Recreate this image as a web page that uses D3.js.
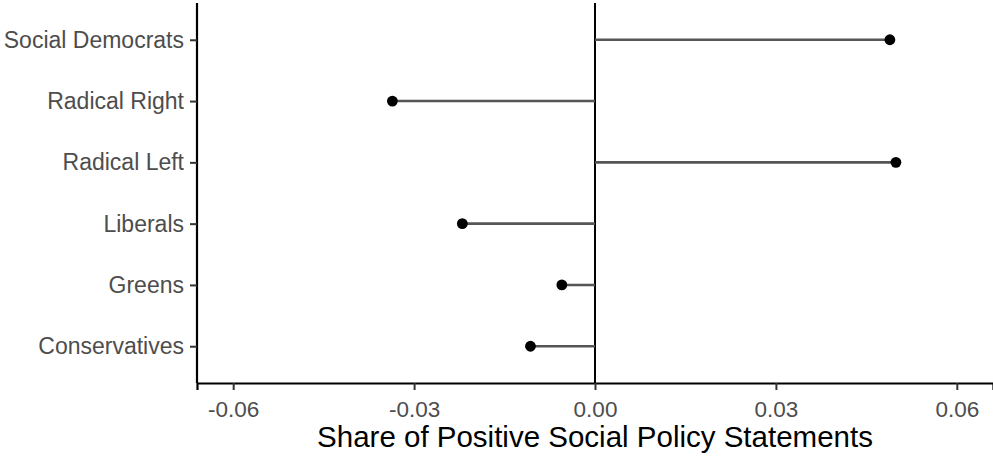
<!DOCTYPE html>
<html>
<head>
<meta charset="utf-8">
<script src="https://cdn.jsdelivr.net/npm/d3@7"></script>
<style>
  html, body { margin: 0; padding: 0; background: #fff; }
  svg { display: block; }
  svg text { font-family: "Liberation Sans", Arial, sans-serif; }
</style>
</head>
<body>
<svg id="chart" width="993" height="457"></svg>
<script>
// Party families, top to bottom
const parties = ["Social Democrats", "Radical Right", "Radical Left", "Liberals", "Greens", "Conservatives"];
// Share of positive social policy statements (difference)
const shares = [0.0489, -0.0336, 0.0499, -0.0220, -0.0055, -0.0107];
const xTicks = [-0.06, -0.03, 0.00, 0.03, 0.06];

const svg = d3.select("#chart");
const W = 993, H = 457;
const margin = { top: 3, right: 0, bottom: 74, left: 197 };
const innerW = W - margin.left - margin.right;
const innerH = H - margin.top - margin.bottom;

const x = d3.scaleLinear().domain([-0.066, 0.066]).range([0, innerW]);
const y = d3.scalePoint().domain(parties).range([0, innerH]).padding(0.6);

const g = svg.append("g").attr("transform", `translate(${margin.left},${margin.top})`);

// zero reference line
g.append("line")
  .attr("x1", x(0)).attr("x2", x(0))
  .attr("y1", 0).attr("y2", innerH)
  .attr("stroke", "#000").attr("stroke-width", 2);

// lollipop stems
g.selectAll("line.stem")
  .data(parties)
  .join("line")
  .attr("class", "stem")
  .attr("x1", x(0))
  .attr("x2", (d, i) => x(shares[i]))
  .attr("y1", d => y(d)).attr("y2", d => y(d))
  .attr("stroke", "#555").attr("stroke-width", 2.6);

// lollipop heads
g.selectAll("circle.head")
  .data(parties)
  .join("circle")
  .attr("class", "head")
  .attr("cx", (d, i) => x(shares[i]))
  .attr("cy", d => y(d))
  .attr("r", 5.4)
  .attr("fill", "#000");

// tick labels use a plain hyphen for negatives
const fmt = v => d3.format(".2f")(v).replace("\u2212", "-");

// x axis
const xAxis = g.append("g")
  .attr("transform", `translate(0,${innerH})`)
  .call(d3.axisBottom(x).tickValues(xTicks).tickFormat(fmt).tickSizeOuter(0).tickSize(7).tickPadding(11));
xAxis.attr("font-family", null).attr("font-size", null);
xAxis.select(".domain").attr("stroke", "#000").attr("stroke-width", 2.2);
xAxis.selectAll(".tick line").attr("stroke", "#333").attr("stroke-width", 2);
xAxis.selectAll(".tick text").attr("fill", "#4d4d4d").style("font-size", "22.5px");

// y axis
const yAxis = g.append("g")
  .call(d3.axisLeft(y).tickSizeOuter(0).tickSize(7).tickPadding(6));
yAxis.attr("font-family", null).attr("font-size", null);
yAxis.select(".domain").attr("stroke", "#000").attr("stroke-width", 2.2)
  .attr("d", `M0,0V${innerH}`);
yAxis.selectAll(".tick line").attr("stroke", "#333").attr("stroke-width", 2);
yAxis.selectAll(".tick text").attr("fill", "#4d4d4d").style("font-size", "23px");

// x axis title
svg.append("text")
  .attr("x", margin.left + x(0))
  .attr("y", 447)
  .attr("text-anchor", "middle")
  .attr("fill", "#000")
  .style("font-size", "29.5px")
  .text("Share of Positive Social Policy Statements");
</script>
</body>
</html>
